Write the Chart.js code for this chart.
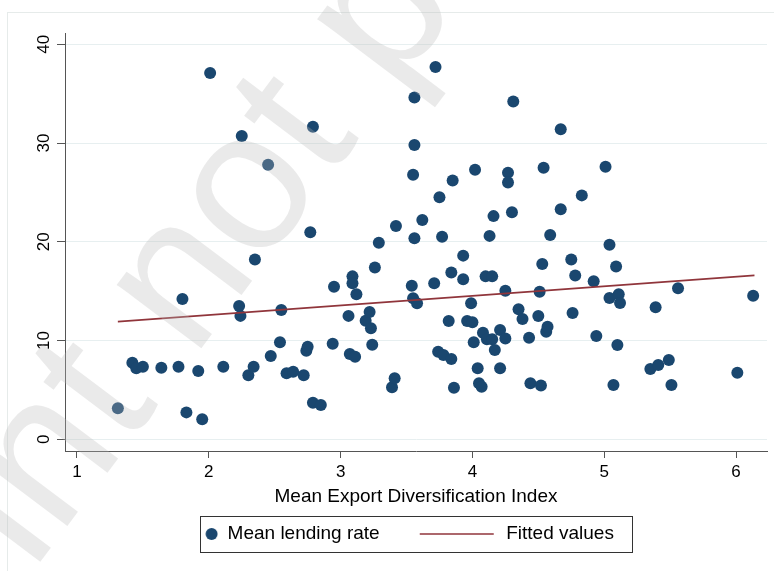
<!DOCTYPE html>
<html>
<head>
<meta charset="utf-8">
<script src="https://cdn.jsdelivr.net/npm/chart.js@4.4.1/dist/chart.umd.min.js"></script>
<style>
html,body{margin:0;padding:0;background:#fff;}
canvas{display:block;}
</style>
</head>
<body>
<canvas id="c" width="774" height="571"></canvas>
<script>
// ---- data ----
const xTickValues = [1, 2, 3, 4, 5, 6];
const yTickValues = [0, 10, 20, 30, 40];
const xAxisTitle = 'Mean Export Diversification Index';
const seriesNames = ['Mean lending rate', 'Fitted values'];

const exportIndex = [
  1.31, 1.42, 1.45, 1.50, 1.64, 1.77, 1.80, 1.83, 1.92, 1.95,
  2.01, 2.11, 2.23, 2.24, 2.25, 2.30, 2.34, 2.35, 2.45, 2.47,
  2.54, 2.55, 2.59, 2.64, 2.72, 2.74, 2.75, 2.77, 2.79, 2.79,
  2.85, 2.94, 2.95, 3.06, 3.07, 3.09, 3.09, 3.11, 3.12, 3.19,
  3.22, 3.23, 3.24, 3.26, 3.29, 3.39, 3.41, 3.42, 3.54, 3.55,
  3.55, 3.56, 3.56, 3.56, 3.58, 3.62, 3.71, 3.72, 3.74, 3.75,
  3.77, 3.78, 3.82, 3.84, 3.84, 3.85, 3.86, 3.93, 3.93, 3.96,
  4.00, 3.99, 4.01, 4.02, 4.04, 4.05, 4.07, 4.08, 4.11, 4.10,
  4.13, 4.15, 4.15, 4.16, 4.17, 4.21, 4.21, 4.25, 4.25, 4.27,
  4.27, 4.30, 4.31, 4.35, 4.38, 4.43, 4.44, 4.51, 4.50, 4.52,
  4.53, 4.54, 4.56, 4.57, 4.59, 4.67, 4.67, 4.75, 4.76, 4.78,
  4.83, 4.92, 4.94, 5.01, 5.04, 5.04, 5.07, 5.09, 5.11, 5.10,
  5.12, 5.35, 5.39, 5.41, 5.49, 5.51, 5.56, 6.01, 6.13
];
const lendingRate = [
  3.14, 7.76, 7.19, 7.35, 7.25, 7.35, 14.2, 2.73, 6.92, 2.03,
  37.1, 7.35, 13.5, 12.5, 30.7, 6.5, 7.35, 18.2, 27.8, 8.44,
  9.82, 13.1, 6.68, 6.85, 6.5, 8.97, 9.38, 20.96, 31.65, 3.7,
  3.47, 9.68, 15.45, 12.5, 8.64, 16.5, 15.8, 8.37, 14.7, 12.0,
  12.9, 11.24, 9.58, 17.4, 19.9, 5.27, 6.18, 21.6, 15.55, 14.28,
  26.8, 20.35, 29.8, 34.6, 13.77, 22.2, 15.8, 37.7, 8.87, 24.5,
  20.5, 8.54, 11.98, 16.9, 8.13, 26.2, 5.23, 16.2, 18.6, 11.98,
  11.85, 13.77, 9.82, 27.3, 7.19, 5.67, 5.33, 10.8, 10.13, 16.5,
  20.6, 16.5, 10.13, 22.6, 9.04, 11.07, 7.19, 10.2, 15.05, 27.0,
  26.0, 23.0, 34.2, 13.16, 12.18, 10.29, 5.67, 14.95, 12.49, 5.45,
  17.75, 27.5, 10.9, 11.4, 20.7, 31.4, 23.3, 18.2, 12.8, 16.6,
  24.7, 16.0, 10.46, 27.6, 19.7, 14.3, 5.5, 17.5, 14.7, 9.55,
  13.8, 7.12, 13.37, 7.52, 8.03, 5.5, 15.3, 6.75, 14.55
];
const fittedX = [1.31, 6.14];
const fittedY = [11.92, 16.6];

// ---- styling ----
const NAVY = '#1a476f';
const MAROON = '#90353b';
const AXIS = '#555555';
const GRID = '#e7eff0';
const FONT = "'Liberation Sans', Arial, Helvetica, sans-serif";
const KEY_W = 107;

function circleKey() {
  const c = document.createElement('canvas');
  c.width = KEY_W; c.height = 14;
  const g = c.getContext('2d');
  g.fillStyle = NAVY;
  g.beginPath(); g.arc(KEY_W - 6.5, 7, 6, 0, Math.PI * 2); g.fill();
  return c;
}
function lineKey() {
  const c = document.createElement('canvas');
  c.width = KEY_W; c.height = 4;
  const g = c.getContext('2d');
  g.strokeStyle = MAROON; g.lineWidth = 1.6;
  g.beginPath(); g.moveTo(30, 2); g.lineTo(KEY_W - 3, 2); g.stroke();
  return c;
}
const keyImages = [circleKey(), lineKey()];

const points = exportIndex.map((x, i) => ({ x: x, y: lendingRate[i] }));
const fitted = fittedX.map((x, i) => ({ x: x, y: fittedY[i] }));

const framePlugin = {
  id: 'frame',
  beforeDraw(chart) {
    const ctx = chart.ctx;
    ctx.save();
    ctx.fillStyle = '#ffffff';
    ctx.fillRect(0, 0, chart.width, chart.height);
    ctx.strokeStyle = '#e6ebea';
    ctx.lineWidth = 1;
    ctx.strokeRect(7.5, 12.5, chart.width + 20, chart.height + 20);
    ctx.restore();
  },
  afterLayout(chart) {
    chart.legend.left -= 21;
    chart.legend.right -= 21;
  },
  afterDraw(chart) {
    const ctx = chart.ctx;
    const hb = chart.legend.legendHitBoxes;
    if (hb && hb.length === 2) {
      const cy = hb[0].top + hb[0].height / 2;
      const left = Math.round(hb[0].left + KEY_W - 12.5 - 6);
      const right = Math.round(hb[1].left + hb[1].width + 18);
      ctx.save();
      ctx.strokeStyle = '#333333';
      ctx.lineWidth = 1;
      ctx.strokeRect(left + 0.5, Math.round(cy - 18) + 0.5, right - left, 36);
      ctx.restore();
    }
    // watermark
    ctx.save();
    ctx.translate(-262, 963);
    ctx.rotate(-53 * Math.PI / 180);
    ctx.font = '200px ' + FONT;
    ctx.fillStyle = 'rgba(187,187,187,0.3)';
    ctx.textBaseline = 'alphabetic';
    ctx.fillText('Preprint not peer reviewed', 0, 0);
    ctx.restore();
  }
};

new Chart(document.getElementById('c').getContext('2d'), {
  type: 'scatter',
  data: {
    datasets: [
      {
        label: seriesNames[0],
        data: points,
        backgroundColor: NAVY,
        borderColor: NAVY,
        borderWidth: 0,
        pointRadius: 6,
        pointHoverRadius: 6,
        order: 1
      },
      {
        type: 'line',
        label: seriesNames[1],
        data: fitted,
        borderColor: MAROON,
        backgroundColor: MAROON,
        borderWidth: 1.6,
        pointRadius: 0,
        fill: false,
        tension: 0,
        order: 0
      }
    ]
  },
  options: {
    responsive: false,
    animation: false,
    devicePixelRatio: 1,
    layout: { padding: { top: 33, right: 7, bottom: 17.5, left: 0 } },
    scales: {
      x: {
        type: 'linear',
        min: 0.909,
        max: 6.235,
        afterBuildTicks: (s) => { s.ticks = xTickValues.map(v => ({ value: v })); },
        afterFit: (s) => { s.height = 63.5; },
        grid: { drawOnChartArea: false, tickLength: 7, tickColor: AXIS, color: AXIS },
        border: { display: true, color: AXIS, width: 1 },
        ticks: { font: { family: FONT, size: 17 }, color: '#000', padding: 4, maxRotation: 0, autoSkip: false },
        title: { display: true, text: xAxisTitle, font: { family: FONT, size: 19 }, color: '#000', padding: { top: 2, bottom: 6 } }
      },
      y: {
        type: 'linear',
        min: -1.18,
        max: 41.14,
        afterBuildTicks: (s) => { s.ticks = yTickValues.map(v => ({ value: v })); },
        afterFit: (s) => { s.width = 65; },
        grid: { color: GRID, tickColor: AXIS, tickLength: 8, lineWidth: 1 },
        border: { display: true, color: AXIS, width: 1 },
        ticks: { font: { family: FONT, size: 17 }, color: '#000', padding: 3, minRotation: 90, maxRotation: 90, crossAlign: 'center', autoSkip: false }
      }
    },
    plugins: {
      tooltip: { enabled: false },
      legend: {
        position: 'bottom',
        labels: {
          usePointStyle: true,
          pointStyleWidth: KEY_W,
          boxHeight: 19,
          padding: 10,
          color: '#000',
          font: { family: FONT, size: 19 },
          generateLabels: (chart) => {
            const items = Chart.defaults.plugins.legend.labels.generateLabels(chart);
            items.sort((a, b) => a.datasetIndex - b.datasetIndex);
            items.forEach(it => { it.pointStyle = keyImages[it.datasetIndex]; });
            return items;
          }
        }
      }
    }
  },
  plugins: [framePlugin]
});
</script>
</body>
</html>
